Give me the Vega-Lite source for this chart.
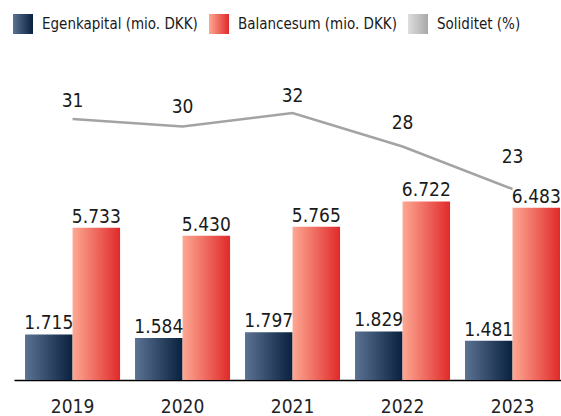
{
  "$schema": "https://vega.github.io/schema/vega-lite/v6.json",
  "width": 547,
  "height": 330,
  "autosize": {"type": "none"},
  "padding": {"left": 14, "top": 50, "right": 0, "bottom": 36},
  "datasets": {
    "bars": [
      {"year": "2019", "series": "Egenkapital (mio. DKK)", "value": 1715},
      {"year": "2019", "series": "Balancesum (mio. DKK)", "value": 5733},
      {"year": "2020", "series": "Egenkapital (mio. DKK)", "value": 1584},
      {"year": "2020", "series": "Balancesum (mio. DKK)", "value": 5430},
      {"year": "2021", "series": "Egenkapital (mio. DKK)", "value": 1797},
      {"year": "2021", "series": "Balancesum (mio. DKK)", "value": 5765},
      {"year": "2022", "series": "Egenkapital (mio. DKK)", "value": 1829},
      {"year": "2022", "series": "Balancesum (mio. DKK)", "value": 6722},
      {"year": "2023", "series": "Egenkapital (mio. DKK)", "value": 1481},
      {"year": "2023", "series": "Balancesum (mio. DKK)", "value": 6483}
    ],
    "sol": [
      {"year": "2019", "soliditet": 31.3},
      {"year": "2020", "soliditet": 30.4},
      {"year": "2021", "soliditet": 32.0},
      {"year": "2022", "soliditet": 28.0},
      {"year": "2023", "soliditet": 22.9}
    ]
  },
  "config": {
    "font": "Liberation Sans Narrow, DejaVu Sans Condensed, sans-serif",
    "view": {"stroke": null},
    "locale": {"number": {"decimal": ",", "thousands": ".", "grouping": [3], "currency": ["", " kr."]}}
  },
  "layer": [
    {
      "data": {"name": "bars"},
      "mark": {"type": "bar"},
      "encoding": {
        "x": {
          "field": "year", "type": "nominal",
          "scale": {"type": "band", "paddingInner": 0.136, "paddingOuter": 0.0545, "align": 0.92},
          "axis": {"title": null, "ticks": false, "domainColor": "#000000", "domainWidth": 1.5, "labelFontSize": 19, "labelPadding": 17, "labelColor": "#222222", "labelAngle": 0}
        },
        "xOffset": {
          "field": "series", "type": "nominal",
          "scale": {"domain": ["Egenkapital (mio. DKK)", "Balancesum (mio. DKK)"], "paddingInner": 0, "paddingOuter": 0}
        },
        "y": {"field": "value", "type": "quantitative", "scale": {"domain": [0, 12422], "nice": false}, "axis": null},
        "color": {
          "field": "series", "type": "nominal",
          "scale": {
            "domain": ["Egenkapital (mio. DKK)", "Balancesum (mio. DKK)", "Soliditet (%)"],
            "range": [
              {"expr": "{gradient: 'linear', x1: 0, y1: 0, x2: 1, y2: 0, stops: [{offset: 0, color: '#5c7293'}, {offset: 1, color: '#08213e'}]}"},
              {"expr": "{gradient: 'linear', x1: 0, y1: 0, x2: 1, y2: 0, stops: [{offset: 0, color: '#fda893'}, {offset: 1, color: '#e02a2a'}]}"},
              {"expr": "{gradient: 'linear', x1: 0, y1: 0, x2: 1, y2: 0, stops: [{offset: 0, color: '#dedede'}, {offset: 1, color: '#a8a8a8'}]}"}
            ]
          },
          "legend": {
            "title": null, "orient": "none", "direction": "horizontal", "legendX": -1, "legendY": -36,
            "symbolType": "square", "symbolSize": 400, "symbolStrokeWidth": 0, "symbolOpacity": 1,
            "labelFontSize": 15, "labelColor": "#1a1a1a", "labelOffset": 9, "labelLimit": 400, "columnPadding": 11
          }
        }
      }
    },
    {
      "data": {"name": "bars"},
      "mark": {"type": "text", "baseline": "alphabetic", "dy": -5, "fontSize": 19, "color": "#1a1a1a"},
      "encoding": {
        "x": {"field": "year", "type": "nominal", "bandPosition": 0.5, "scale": {"type": "band", "paddingInner": 0.136, "paddingOuter": 0.0545, "align": 0.92}},
        "xOffset": {"field": "series", "type": "nominal", "scale": {"domain": ["Egenkapital (mio. DKK)", "Balancesum (mio. DKK)"], "paddingInner": 0, "paddingOuter": 0}},
        "y": {"field": "value", "type": "quantitative", "scale": {"domain": [0, 12422], "nice": false}, "axis": null},
        "text": {"field": "value", "type": "quantitative", "format": ",.0f"}
      }
    },
    {
      "data": {"name": "sol"},
      "mark": {"type": "line", "color": "#a3a3a3", "strokeWidth": 2.5},
      "encoding": {
        "x": {"field": "year", "type": "nominal", "bandPosition": 0.5, "scale": {"type": "band", "paddingInner": 0.136, "paddingOuter": 0.0545, "align": 0.92}},
        "y": {"field": "soliditet", "type": "quantitative", "scale": {"domain": [0, 39.57], "nice": false, "zero": false}, "axis": null}
      }
    },
    {
      "data": {"name": "sol"},
      "mark": {"type": "text", "baseline": "alphabetic", "fontSize": 19, "color": "#1a1a1a"},
      "encoding": {
        "x": {"field": "year", "type": "nominal", "bandPosition": 0.5, "scale": {"type": "band", "paddingInner": 0.136, "paddingOuter": 0.0545, "align": 0.92}},
        "y": {"field": "soliditet", "type": "quantitative", "scale": {"domain": [-9.45, 39.81], "nice": false, "zero": false}, "axis": null},
        "text": {"field": "soliditet", "type": "quantitative", "format": ".0f"}
      }
    }
  ],
  "resolve": {"scale": {"y": "independent"}}
}
